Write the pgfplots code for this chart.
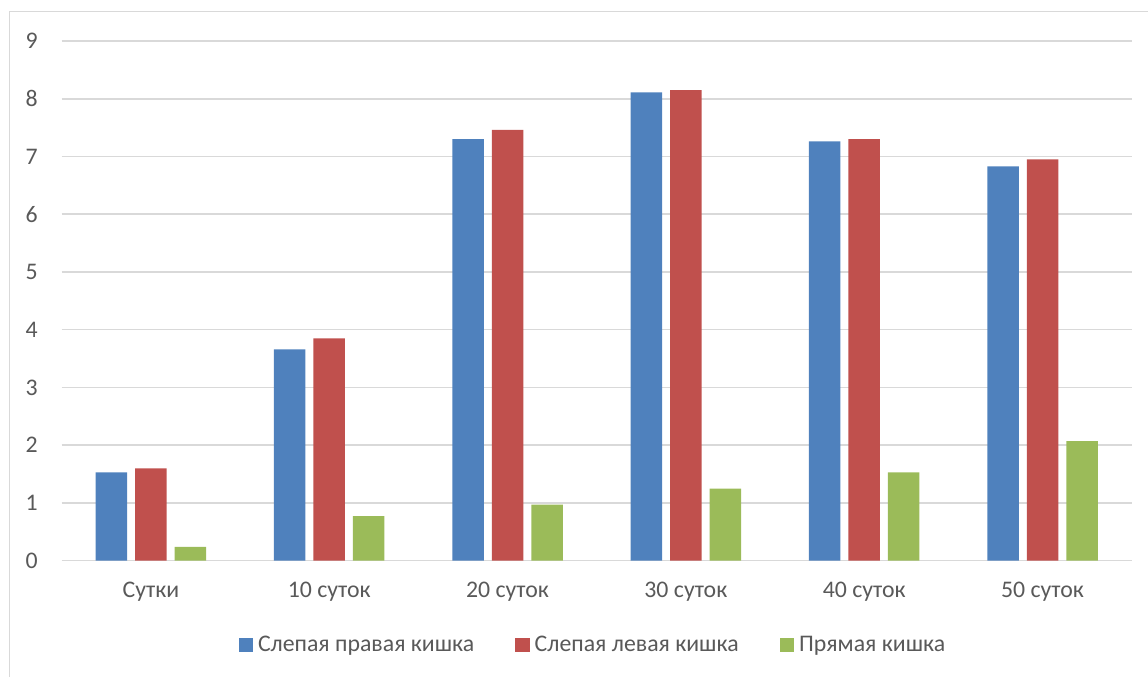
\documentclass[border=0pt]{standalone}
\usepackage{pgfplots}
\pgfplotsset{compat=1.18}
\usepackage{fontspec}
\setmainfont{Carlito}
\definecolor{cblue}{HTML}{4F81BD}
\definecolor{cred}{HTML}{C0504D}
\definecolor{cgreen}{HTML}{9BBB59}
\definecolor{cgrid}{HTML}{D9D9D9}
\definecolor{ctext}{HTML}{595959}
\begin{document}
\begin{tikzpicture}
\useasboundingbox (-30.85pt,-57.65pt) rectangle (543.15pt,280.35pt);
\draw[cgrid, line width=0.7pt] (-26.1pt,-60pt) -- (-26.1pt,274.5pt) -- (546pt,274.5pt);
\begin{axis}[
  at={(0pt,0pt)}, anchor=south west,
  scale only axis,
  width=535pt, height=259.85pt,
  ybar=4pt, bar width=15.75pt,
  xmin=-0.5, xmax=5.5, ymin=0, ymax=9,
  enlargelimits=false,
  xtick={0,1,2,3,4,5},
  xticklabels={Сутки,10 суток,20 суток,30 суток,40 суток,50 суток},
  ytick={0,1,...,9},
  major tick length=0pt,
  axis line style={draw=none},
  ymajorgrids,
  major grid style={cgrid, line width=0.75pt},
  /pgf/number format/assume math mode=true,
  tick label style={font=\fontsize{11.9}{14}\selectfont, text=ctext},
  yticklabel style={anchor=east, inner sep=0pt, xshift=-11.8pt},
  xticklabel style={anchor=base, inner sep=0pt, yshift=-18.5pt},
  legend columns=3,
  legend style={at={(0.4955,-0.1622)}, anchor=center, draw=none, fill=none,
    inner sep=0pt, font=\fontsize{11.9}{14}\selectfont, text=ctext,
    nodes={inner sep=0pt},
    /tikz/every odd column/.append style={column sep=2.5pt},
    /tikz/every even column/.append style={column sep=20.5pt}},
  legend image code/.code={\fill[#1] (0pt,-3.6pt) rectangle (7.25pt,3.6pt);},
]
\addplot[fill=cblue, draw=none] coordinates {(0,1.53) (1,3.66) (2,7.30) (3,8.11) (4,7.26) (5,6.83)};
\addplot[fill=cred, draw=none] coordinates {(0,1.60) (1,3.85) (2,7.46) (3,8.15) (4,7.30) (5,6.95)};
\addplot[fill=cgreen, draw=none] coordinates {(0,0.24) (1,0.77) (2,0.97) (3,1.25) (4,1.53) (5,2.07)};
\legend{Слепая правая кишка, Слепая левая кишка, Прямая кишка}
\end{axis}
\end{tikzpicture}
\end{document}
